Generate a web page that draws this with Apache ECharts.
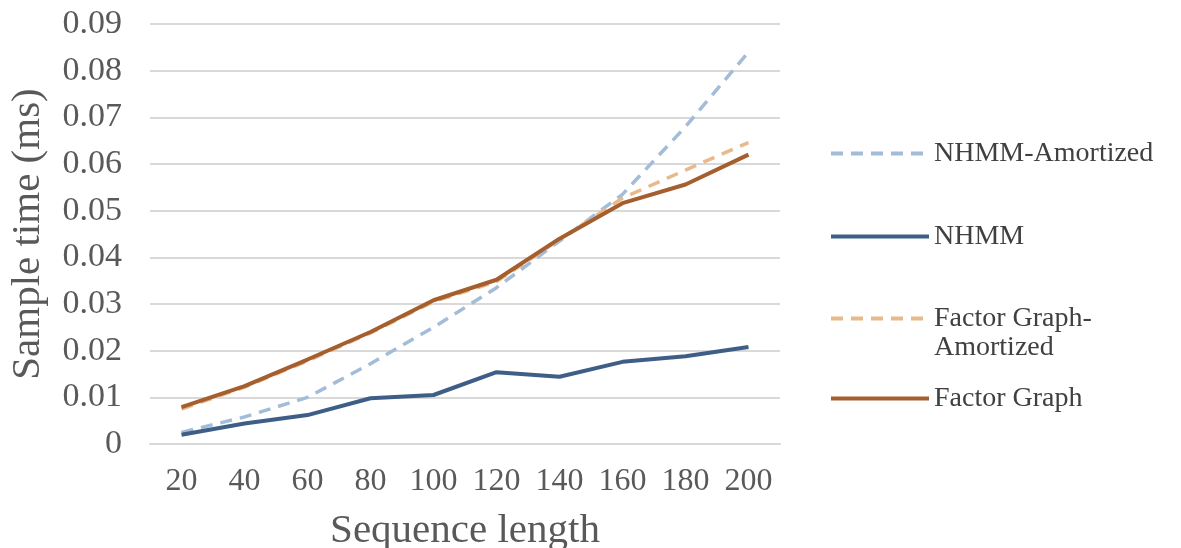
<!DOCTYPE html>
<html>
<head>
<meta charset="utf-8">
<script src="https://cdn.jsdelivr.net/npm/echarts@6/dist/echarts.min.js"></script>
<style>
  html, body { margin: 0; padding: 0; background: #fff; }
  #chart { width: 1181px; height: 548px; }
</style>
</head>
<body>
<div id="chart"></div>
<script>
// sequence lengths on the x axis
var seqLength = ['20', '40', '60', '80', '100', '120', '140', '160', '180', '200'];

// sample times (ms)
var nhmmAmortized = [0.0025, 0.0058, 0.0100, 0.0172, 0.0250, 0.0335, 0.0435, 0.0535, 0.0680, 0.0840];
var nhmm          = [0.0020, 0.0044, 0.0062, 0.0098, 0.0105, 0.0154, 0.0144, 0.0176, 0.0188, 0.0208];
var fgAmortized   = [0.0075, 0.0122, 0.0178, 0.0238, 0.0305, 0.0348, 0.0438, 0.0527, 0.0587, 0.0646];
var factorGraph   = [0.0079, 0.0124, 0.0181, 0.0240, 0.0308, 0.0352, 0.0440, 0.0516, 0.0556, 0.0620];

var serif = '"Liberation Serif", "DejaVu Serif", serif';
var textGray = '#595959';

var chart = echarts.init(document.getElementById('chart'));

// one legend block per series so the gaps can follow the picture
function legendBox(name, top) {
    return {
        orient: 'vertical',
        left: 824,
        top: top,
        data: [name],
        itemWidth: 98,
        itemHeight: 14,
        itemGap: 0,
        itemStyle: {opacity: 0},
        lineStyle: {width: 4},
        textStyle: {fontFamily: serif, fontSize: 28, color: '#404040', lineHeight: 29}
    };
}

// two-line entry: blank first line so the icon sits on "Factor Graph-"
var fgLegend = legendBox('Factor Graph-\nAmortized', 270);
fgLegend.formatter = function (name) { return ' \n' + name; };

var option = {
    animation: false,
    backgroundColor: '#fff',
    grid: {left: 150, top: 24, width: 630, height: 420, outerBoundsMode: 'none', containLabel: false},
    legend: [
        legendBox('NHMM-Amortized', 134),
        legendBox('NHMM', 217),
        fgLegend,
        legendBox('Factor Graph', 379)
    ],
    xAxis: {
        type: 'category',
        data: seqLength,
        boundaryGap: true,
        name: 'Sequence length',
        nameLocation: 'middle',
        nameGap: 67,
        nameTextStyle: {fontFamily: serif, fontSize: 41, color: textGray},
        axisLine: {show: true, lineStyle: {color: '#d9d9d9', width: 2}},
        axisTick: {show: false},
        axisLabel: {interval: 0, fontFamily: serif, fontSize: 32, color: textGray, margin: 22}
    },
    yAxis: {
        type: 'value',
        min: 0,
        max: 0.09,
        interval: 0.01,
        name: 'Sample time (ms)',
        nameLocation: 'middle',
        nameGap: 101,
        nameTextStyle: {fontFamily: serif, fontSize: 41, color: textGray},
        axisLine: {show: false},
        axisTick: {show: false},
        axisLabel: {
            fontFamily: serif, fontSize: 34, color: textGray, margin: 28,
            formatter: function (v) { return v === 0 ? '0' : v.toFixed(2); }
        },
        splitLine: {lineStyle: {color: '#d9d9d9', width: 2}}
    },
    series: [
        {
            name: 'NHMM-Amortized', type: 'line', data: nhmmAmortized,
            symbol: 'none', z: 2,
            lineStyle: {color: '#a3bcd8', width: 3.5, type: [12, 8]},
            itemStyle: {color: '#a3bcd8'}
        },
        {
            name: 'NHMM', type: 'line', data: nhmm,
            symbol: 'none', z: 3,
            lineStyle: {color: '#3f5e87', width: 4},
            itemStyle: {color: '#3f5e87'}
        },
        {
            name: 'Factor Graph-\nAmortized', type: 'line', data: fgAmortized,
            symbol: 'none', z: 2,
            lineStyle: {color: '#e8b98a', width: 3.5, type: [12, 8]},
            itemStyle: {color: '#e8b98a'}
        },
        {
            name: 'Factor Graph', type: 'line', data: factorGraph,
            symbol: 'none', z: 4,
            lineStyle: {color: '#a55e2e', width: 4},
            itemStyle: {color: '#a55e2e'}
        }
    ]
};

chart.setOption(option);
</script>
</body>
</html>
